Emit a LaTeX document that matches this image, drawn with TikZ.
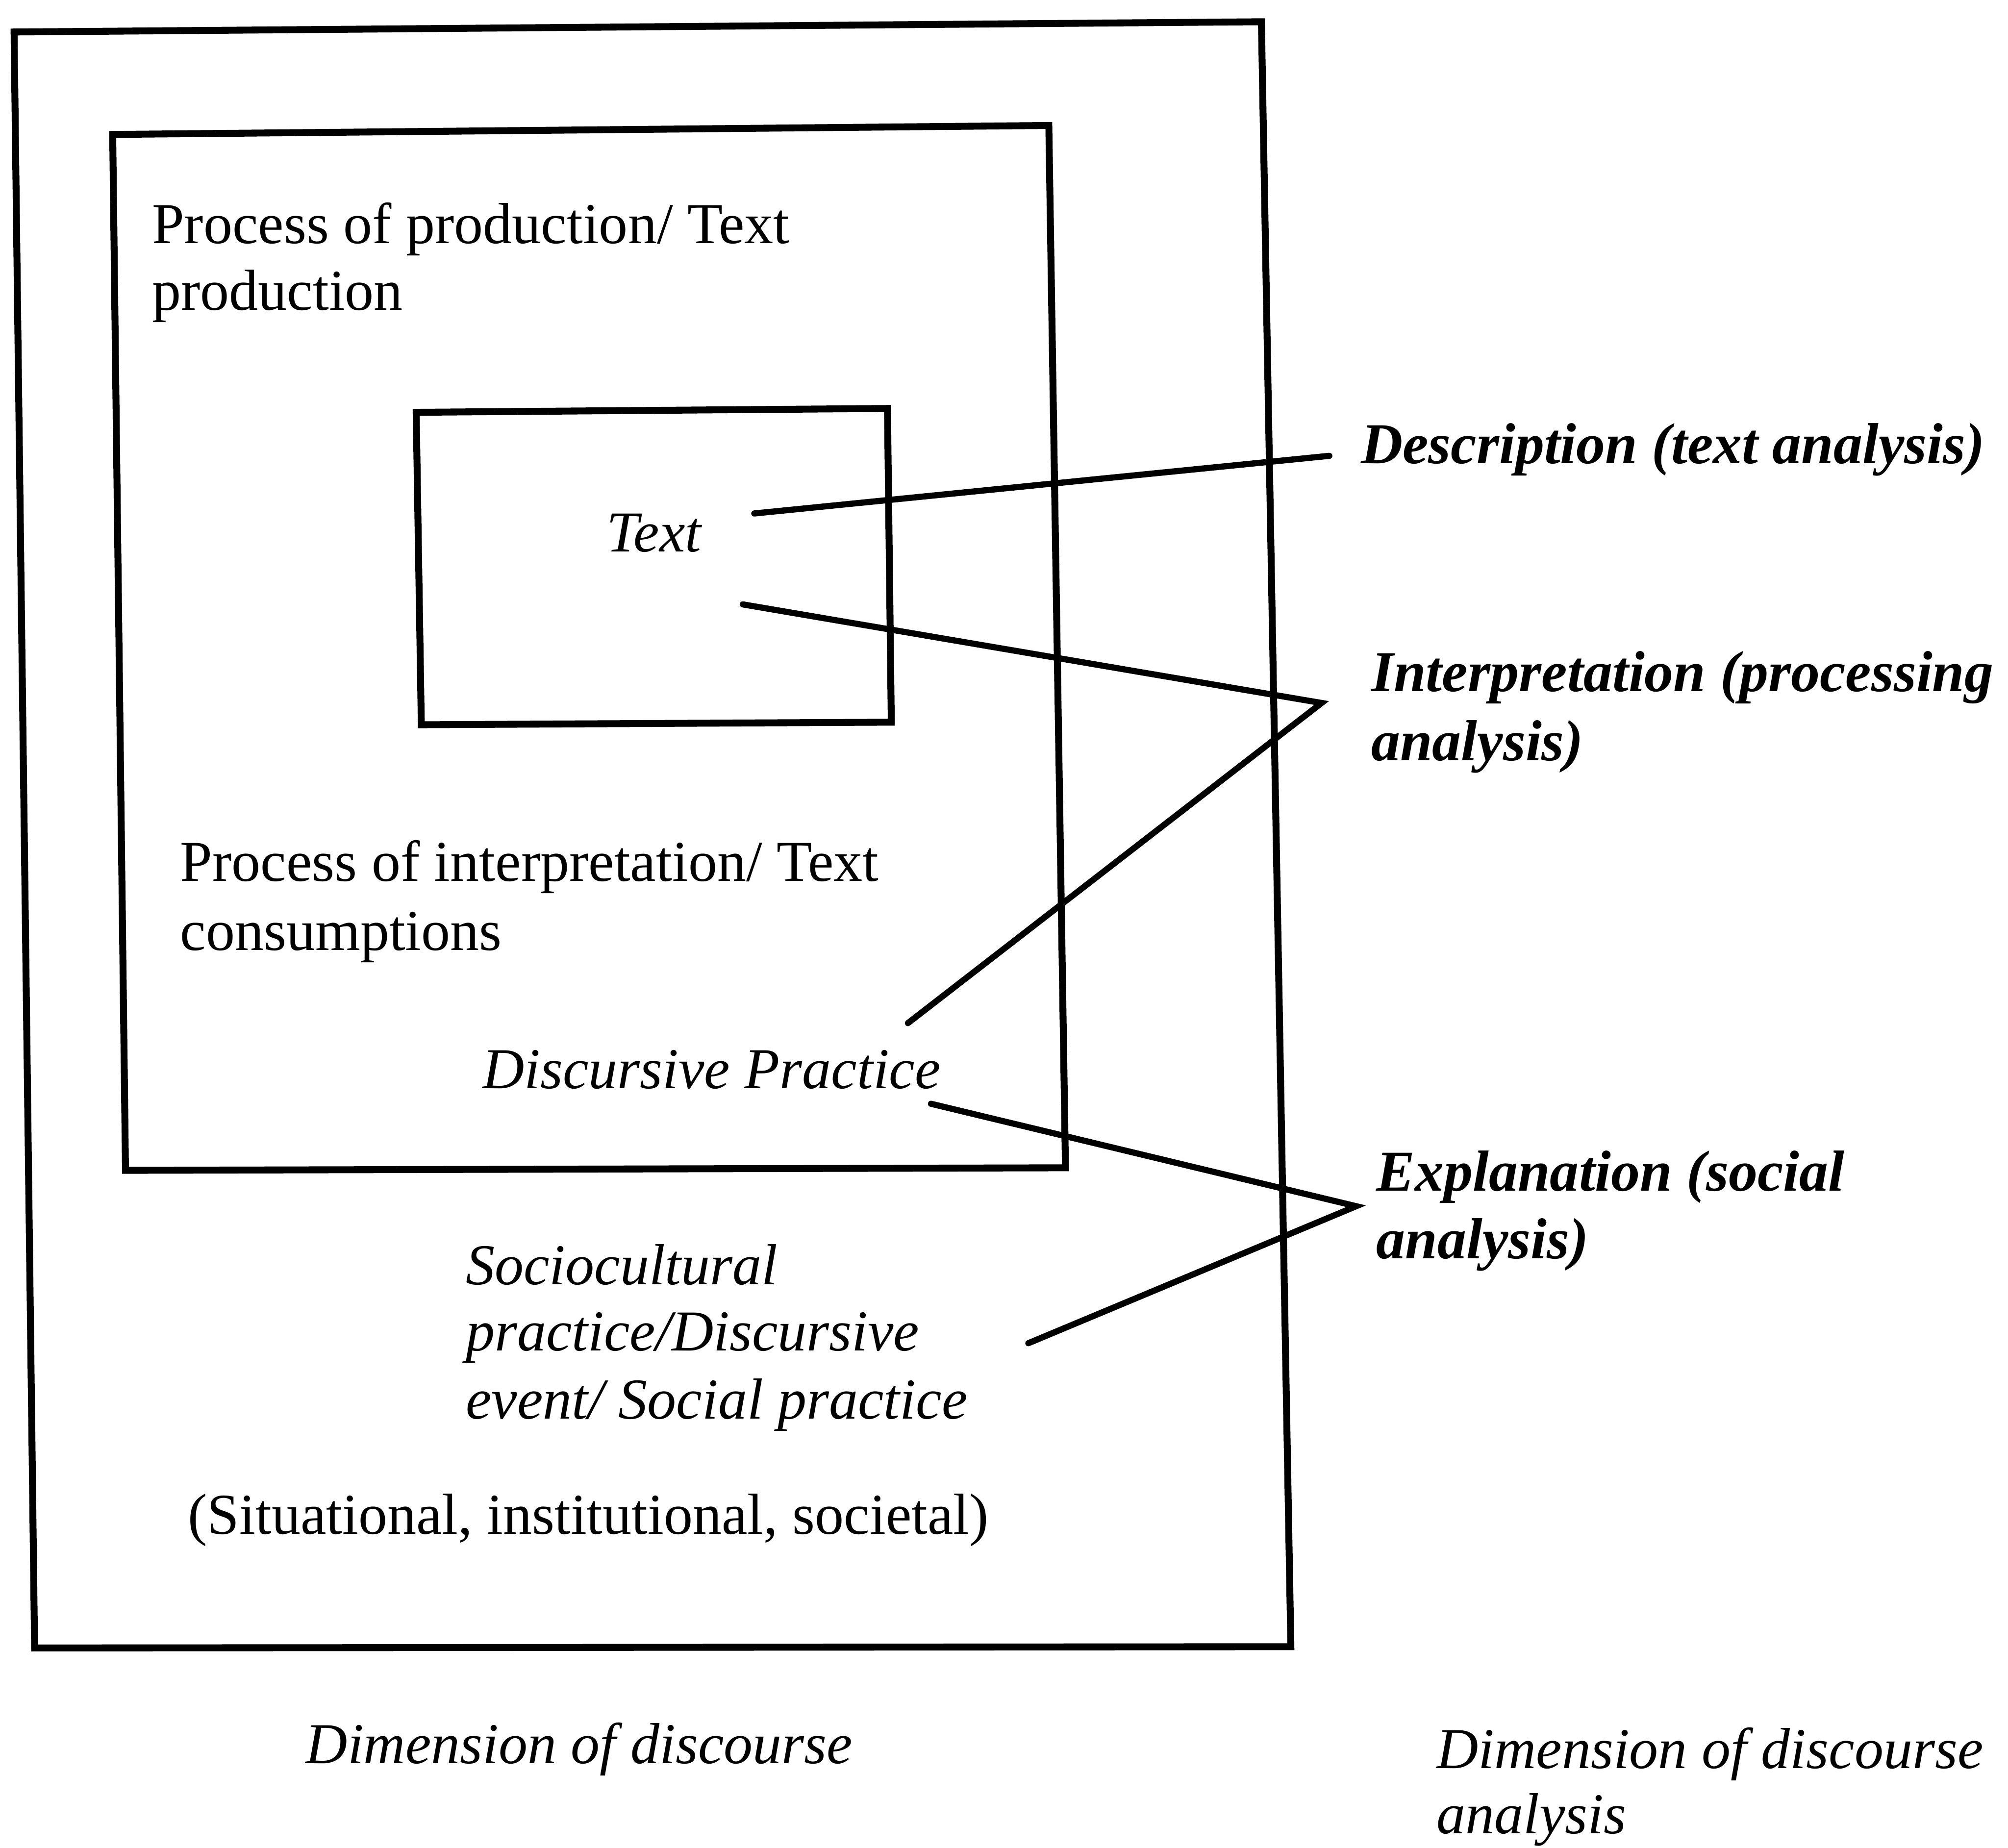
\documentclass[tikz,border=0pt]{standalone}
\usepackage{fontspec}
\setmainfont{Liberation Serif}
\begin{document}
\begin{tikzpicture}[x=0.25pt,y=-0.25pt,
  frame/.style={line width=1.35pt, line join=miter},
  link/.style={line width=1.2pt, line cap=round, line join=miter},
  txt/.style={anchor=base west, inner sep=0pt, font=\fontsize{11.3}{13.25}\selectfont},
  itxt/.style={txt, font=\fontsize{11.3}{13.25}\selectfont\itshape},
  btxt/.style={txt, font=\fontsize{11.3}{13.25}\selectfont\bfseries\itshape}]
\useasboundingbox[fill=white] (0,0) rectangle (1568,1443);

% nested frames: social practice, discursive practice, text
\draw[frame] (11,25) -- (985,17) -- (1008,1286) -- (27,1287) -- cycle;
\draw[frame] (88,105) -- (819,98) -- (832,912) -- (98,914) -- cycle;
\draw[frame] (325,322) -- (693,319) -- (696,564) -- (329,566) -- cycle;

% labels inside the frames
\node[txt]  (prodA)   at (118,190)  {Process of production/ Text};
\node[txt]  (prodB)   at (118,242)  {production};
\node[itxt] (text)    at (473,431)  {Text};
\node[txt]  (interpA) at (140,688)  {Process of interpretation/ Text};
\node[txt]  (interpB) at (140,742)  {consumptions};
\node[itxt] (dp)      at (376,850)  {Discursive Practice};
\node[itxt] (socA)    at (363,1003) {Sociocultural};
\node[itxt] (socB)    at (363,1055) {practice/Discursive};
\node[itxt] (socC)    at (363,1108) {event/ Social practice};
\node[txt]  (sit)     at (146,1198) {(Situational, institutional, societal)};
\node[itxt] (dimA)    at (238,1377) {Dimension of discourse};

% analysis labels on the right
\node[btxt] (desc) at (1062,362) {Description (text analysis)};
\node[btxt] (intA) at (1070,540) {Interpretation (processing};
\node[btxt] (intB) at (1070,594) {analysis)};
\node[btxt] (expA) at (1074,930) {Explanation (social};
\node[btxt] (expB) at (1074,983) {analysis)};
\node[itxt] (dimB) at (1121,1381) {Dimension of discourse};
\node[itxt] (dimC) at (1121,1432) {analysis};

% connector ends
\coordinate (dS) at (589,401);
\coordinate (dE) at (1038,356);
\coordinate (iS) at (580,472);
\coordinate (iV) at (1032,549);
\coordinate (iE) at (709,799);
\coordinate (eS) at (727,862);
\coordinate (eV) at (1059,942);
\coordinate (eE) at (803,1049);

\draw[link] (dS) -- (dE);
\draw[link] (iS) -- (iV) -- (iE);
\draw[link] (eS) -- (eV) -- (eE);
\end{tikzpicture}
\end{document}
